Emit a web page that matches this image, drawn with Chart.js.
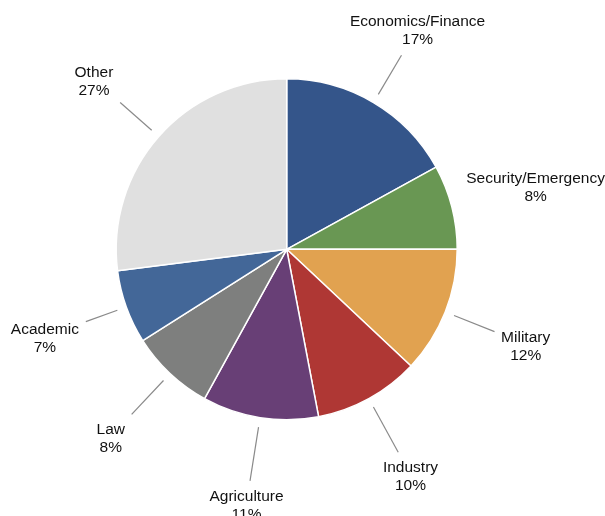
<!DOCTYPE html>
<html>
<head>
<meta charset="utf-8">
<title>Sector share</title>
<script src="https://cdn.jsdelivr.net/npm/chart.js@4/dist/chart.umd.min.js"></script>
<style>
  html, body { margin: 0; padding: 0; background: #ffffff; }
  #wrap { width: 605px; height: 516px; }
</style>
</head>
<body>
<div id="wrap"><canvas id="pie" width="605" height="516"></canvas></div>
<script>
// Sectors, clockwise from 12 o'clock
const categories = [
  'Economics/Finance', 'Security/Emergency', 'Military', 'Industry',
  'Agriculture', 'Law', 'Academic', 'Other'
];
const shares = [17, 8, 12, 10, 11, 8, 7, 27];
const sliceColors = [
  '#34558a', '#699753', '#e1a250', '#af3734',
  '#683f76', '#7e7f7e', '#436798', '#e0e0e0'
];

const FONT = '15.5px "Liberation Sans", Arial, Helvetica, sans-serif';
const LINE_H = 18;

// Outside labels: two-line text centred on the slice's mid-angle ray,
// with a radial leader line that stops just short of the text box.
const outsideLabels = {
  id: 'outsideLabels',
  afterDatasetsDraw(chart) {
    const ctx = chart.ctx;
    const meta = chart.getDatasetMeta(0);
    ctx.save();
    ctx.font = FONT;
    ctx.textAlign = 'center';
    ctx.textBaseline = 'middle';
    meta.data.forEach((arc, i) => {
      const {x, y, startAngle, endAngle, outerRadius} = arc.getProps(
        ['x', 'y', 'startAngle', 'endAngle', 'outerRadius'], true);
      const mid = (startAngle + endAngle) / 2;
      const dx = Math.cos(mid), dy = Math.sin(mid);
      const lines = [categories[i], shares[i] + '%'];
      const tr = outerRadius + 86.5;
      const cx = x + dx * tr, cy = y + dy * tr + 2.5;
      const w = Math.max(...lines.map(t => ctx.measureText(t).width));
      const pad = 6.5;
      const box = {
        l: cx - w / 2 - pad, r: cx + w / 2 + pad,
        t: cy - LINE_H - pad, b: cy + LINE_H + pad
      };
      const inside = (px, py) => px >= box.l && px <= box.r && py >= box.t && py <= box.b;
      const r0 = outerRadius + 9.5;
      const sx = x + dx * r0, sy = y + dy * r0;
      if (!inside(sx, sy)) {
        let r1 = r0;
        while (r1 < tr && !inside(x + dx * (r1 + 0.5), y + dy * (r1 + 0.5))) r1 += 0.5;
        ctx.beginPath();
        ctx.strokeStyle = '#8a8a8a';
        ctx.lineWidth = 1.2;
        ctx.moveTo(sx, sy);
        ctx.lineTo(x + dx * r1, y + dy * r1);
        ctx.stroke();
      }
      ctx.fillStyle = '#111111';
      ctx.fillText(lines[0], cx, cy - LINE_H / 2);
      ctx.fillText(lines[1], cx, cy + LINE_H / 2);
    });
    ctx.restore();
  }
};

new Chart(document.getElementById('pie'), {
  type: 'pie',
  data: {
    labels: categories,
    datasets: [{
      data: shares,
      backgroundColor: sliceColors,
      borderColor: '#ffffff',
      borderWidth: 1.5,
      hoverOffset: 0
    }]
  },
  options: {
    responsive: false,
    animation: false,
    events: [],
    layout: { padding: { left: 115.45, right: 147.05, top: 78.05, bottom: 95.45 } },
    plugins: {
      legend: { display: false },
      tooltip: { enabled: false },
      title: { display: false }
    }
  },
  plugins: [outsideLabels]
});
</script>
</body>
</html>
